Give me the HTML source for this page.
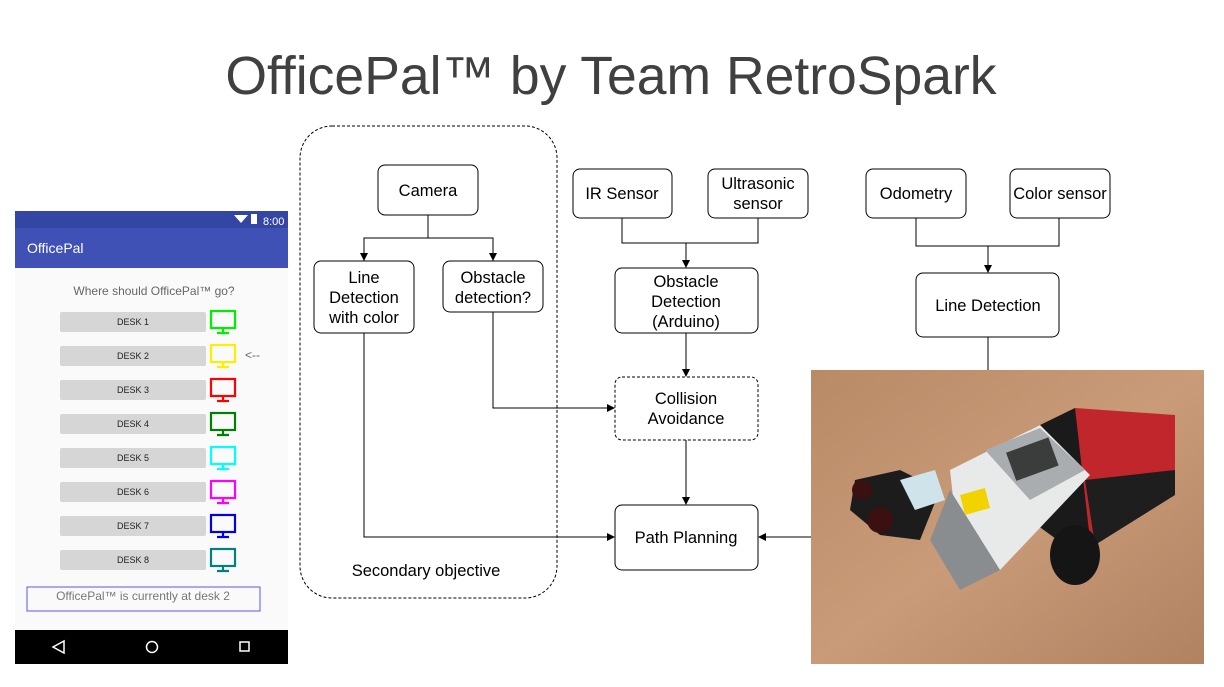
<!DOCTYPE html>
<html><head><meta charset="utf-8"><style>
body{margin:0;width:1224px;height:682px;background:#fff;overflow:hidden;font-family:"Liberation Sans",sans-serif;}
</style></head><body>
<svg width="1224" height="682" xmlns="http://www.w3.org/2000/svg" font-family="Liberation Sans, sans-serif">
<defs><marker id="a" markerWidth="8" markerHeight="8" refX="7" refY="4" orient="auto" markerUnits="userSpaceOnUse"><path d="M0,0 L8,4 L0,8 z" fill="#000"/></marker></defs>
<text x="611" y="94" text-anchor="middle" font-size="53.5" fill="#404040">OfficePal™ by Team RetroSpark</text>

<!-- phone -->
<rect x="15" y="211" width="273" height="453" fill="#fafafa"/>
<rect x="15" y="211" width="273" height="17" fill="#3346a3"/>
<rect x="15" y="228" width="273" height="40" fill="#3f51b5"/>
<text x="263" y="225" font-size="11" fill="#fff">8:00</text>
<path d="M234,215 L248,215 L241,223 z" fill="#fff"/><rect x="251" y="214" width="6" height="10" fill="#fff"/>
<text x="27" y="253" font-size="14" fill="#fff">OfficePal</text>
<text x="154" y="295" text-anchor="middle" font-size="12" fill="#666">Where should OfficePal™ go?</text>
<g font-size="9" fill="#222" text-anchor="middle">
<rect x="60" y="312" width="146" height="20" fill="#d6d6d6" rx="2"/><text x="133" y="325">DESK 1</text>
<rect x="60" y="346" width="146" height="20" fill="#d6d6d6" rx="2"/><text x="133" y="359">DESK 2</text>
<rect x="60" y="380" width="146" height="20" fill="#d6d6d6" rx="2"/><text x="133" y="393">DESK 3</text>
<rect x="60" y="414" width="146" height="20" fill="#d6d6d6" rx="2"/><text x="133" y="427">DESK 4</text>
<rect x="60" y="448" width="146" height="20" fill="#d6d6d6" rx="2"/><text x="133" y="461">DESK 5</text>
<rect x="60" y="482" width="146" height="20" fill="#d6d6d6" rx="2"/><text x="133" y="495">DESK 6</text>
<rect x="60" y="516" width="146" height="20" fill="#d6d6d6" rx="2"/><text x="133" y="529">DESK 7</text>
<rect x="60" y="550" width="146" height="20" fill="#d6d6d6" rx="2"/><text x="133" y="563">DESK 8</text>
</g>
<g fill="none" stroke-width="2.2">
<g stroke="#00ee00"><rect x="211" y="311" width="24" height="17"/><path d="M223,328 v4 M217,333 h12"/></g>
<g stroke="#ffee00"><rect x="211" y="345" width="24" height="17"/><path d="M223,362 v4 M217,367 h12"/></g>
<g stroke="#ff0000"><rect x="211" y="379" width="24" height="17"/><path d="M223,396 v4 M217,401 h12"/></g>
<g stroke="#008000"><rect x="211" y="413" width="24" height="17"/><path d="M223,430 v4 M217,435 h12"/></g>
<g stroke="#00ffff"><rect x="211" y="447" width="24" height="17"/><path d="M223,464 v4 M217,469 h12"/></g>
<g stroke="#ff00ff"><rect x="211" y="481" width="24" height="17"/><path d="M223,498 v4 M217,503 h12"/></g>
<g stroke="#0000ee"><rect x="211" y="515" width="24" height="17"/><path d="M223,532 v4 M217,537 h12"/></g>
<g stroke="#008080"><rect x="211" y="549" width="24" height="17"/><path d="M223,566 v4 M217,571 h12"/></g>
</g>
<text x="245" y="359" font-size="12" fill="#666">&lt;--</text>
<rect x="27" y="587" width="233" height="24" fill="none" stroke="#5555ee"/>
<text x="143" y="600" text-anchor="middle" font-size="12" fill="#777">OfficePal™ is currently at desk 2</text>
<rect x="15" y="630" width="273" height="34" fill="#000"/>
<path d="M64,641 L53,647 L64,653 z" fill="none" stroke="#fff" stroke-width="1.5"/>
<circle cx="152" cy="647" r="5.5" fill="none" stroke="#fff" stroke-width="1.5"/>
<rect x="240" y="642" width="9" height="9" fill="none" stroke="#fff" stroke-width="1.5"/>

<!-- diagram -->
<rect x="300" y="126" width="257" height="472" rx="32" fill="none" stroke="#000" stroke-dasharray="3,2"/>
<text x="426" y="576" text-anchor="middle" font-size="16.5" fill="#000">Secondary objective</text>
<g fill="#fff" stroke="#000">
<rect x="378" y="165" width="100" height="50" rx="7"/>
<rect x="314" y="261" width="100" height="72" rx="7"/>
<rect x="443" y="261" width="100" height="51" rx="7"/>
<rect x="573" y="169" width="99" height="49" rx="7"/>
<rect x="708" y="169" width="100" height="49" rx="7"/>
<rect x="615" y="268" width="143" height="65" rx="7"/>
<rect x="615" y="377" width="143" height="63" rx="7" stroke-dasharray="3,2"/>
<rect x="615" y="505" width="143" height="65" rx="7"/>
<rect x="866" y="169" width="100" height="49" rx="7"/>
<rect x="1010" y="169" width="100" height="49" rx="7"/>
<rect x="916" y="273" width="143" height="64" rx="7"/>
</g>
<g fill="none" stroke="#000">
<path d="M428,215 V238 M364,261 V238 H493 V261" />
<path d="M364,238 V260" marker-end="url(#a)"/><path d="M493,238 V260" marker-end="url(#a)"/>
<path d="M622,218 V243 H758 V218 M686,243 V267" marker-end="url(#a)"/>
<path d="M686,333 V376" marker-end="url(#a)"/>
<path d="M686,440 V504" marker-end="url(#a)"/>
<path d="M364,333 V537 H614" marker-end="url(#a)"/>
<path d="M493,312 V408 H614" marker-end="url(#a)"/>
<path d="M916,218 V246 H1059 V218 M988,246 V272" marker-end="url(#a)"/>
<path d="M988,337 V372"/>
<path d="M811,537 H759" marker-end="url(#a)"/>
</g>
<g font-size="16.5" fill="#000" text-anchor="middle">
<text x="428" y="196">Camera</text>
<text x="364" y="283">Line</text><text x="364" y="303">Detection</text><text x="364" y="323">with color</text>
<text x="493" y="283">Obstacle</text><text x="493" y="303">detection?</text>
<text x="622" y="199">IR Sensor</text>
<text x="758" y="189">Ultrasonic</text><text x="758" y="209">sensor</text>
<text x="686" y="287">Obstacle</text><text x="686" y="307">Detection</text><text x="686" y="327">(Arduino)</text>
<text x="686" y="404">Collision</text><text x="686" y="424">Avoidance</text>
<text x="686" y="543">Path Planning</text>
<text x="916" y="199">Odometry</text>
<text x="1060" y="199">Color sensor</text>
<text x="988" y="311">Line Detection</text>
</g>

<!-- photo -->
<defs><linearGradient id="w" x1="0" y1="0" x2="1" y2="1"><stop offset="0" stop-color="#b88a66"/><stop offset="0.5" stop-color="#c99b78"/><stop offset="1" stop-color="#b08262"/></linearGradient></defs>
<rect x="811" y="370" width="393" height="294" fill="url(#w)"/>
<path d="M1030,430 L1075,408 L1175,415 L1175,490 L1090,540 Z" fill="#c0262c"/>
<path d="M1030,430 L1075,408 L1090,540 L1085,560 L1030,520 Z" fill="#1a1a1a"/>
<path d="M1085,480 L1175,470 L1175,495 L1095,545 Z" fill="#1e1e1e"/>
<ellipse cx="1075" cy="555" rx="25" ry="30" fill="#151515"/>
<path d="M950,470 L1040,425 L1090,475 L1000,570 L960,560 Z" fill="#e8eaea"/>
<path d="M985,450 L1040,428 L1085,470 L1030,500 Z" fill="#a9adb0"/>
<rect x="1010" y="445" width="45" height="30" fill="#3a3d3c" transform="rotate(-20 1030 460)"/>
<path d="M950,490 L1000,570 L960,590 L930,540 Z" fill="#8a8d90"/>
<path d="M855,480 L900,470 L940,490 L920,540 L880,535 L850,510 Z" fill="#1c1c1c"/>
<circle cx="880" cy="520" r="13" fill="#3a1010"/><circle cx="862" cy="490" r="10" fill="#3a1010"/>
<path d="M900,480 L935,470 L945,500 L915,510 Z" fill="#cfe3ea"/>
<path d="M960,495 L985,488 L990,508 L965,515 Z" fill="#f2d300"/>
</svg>
</body></html>
